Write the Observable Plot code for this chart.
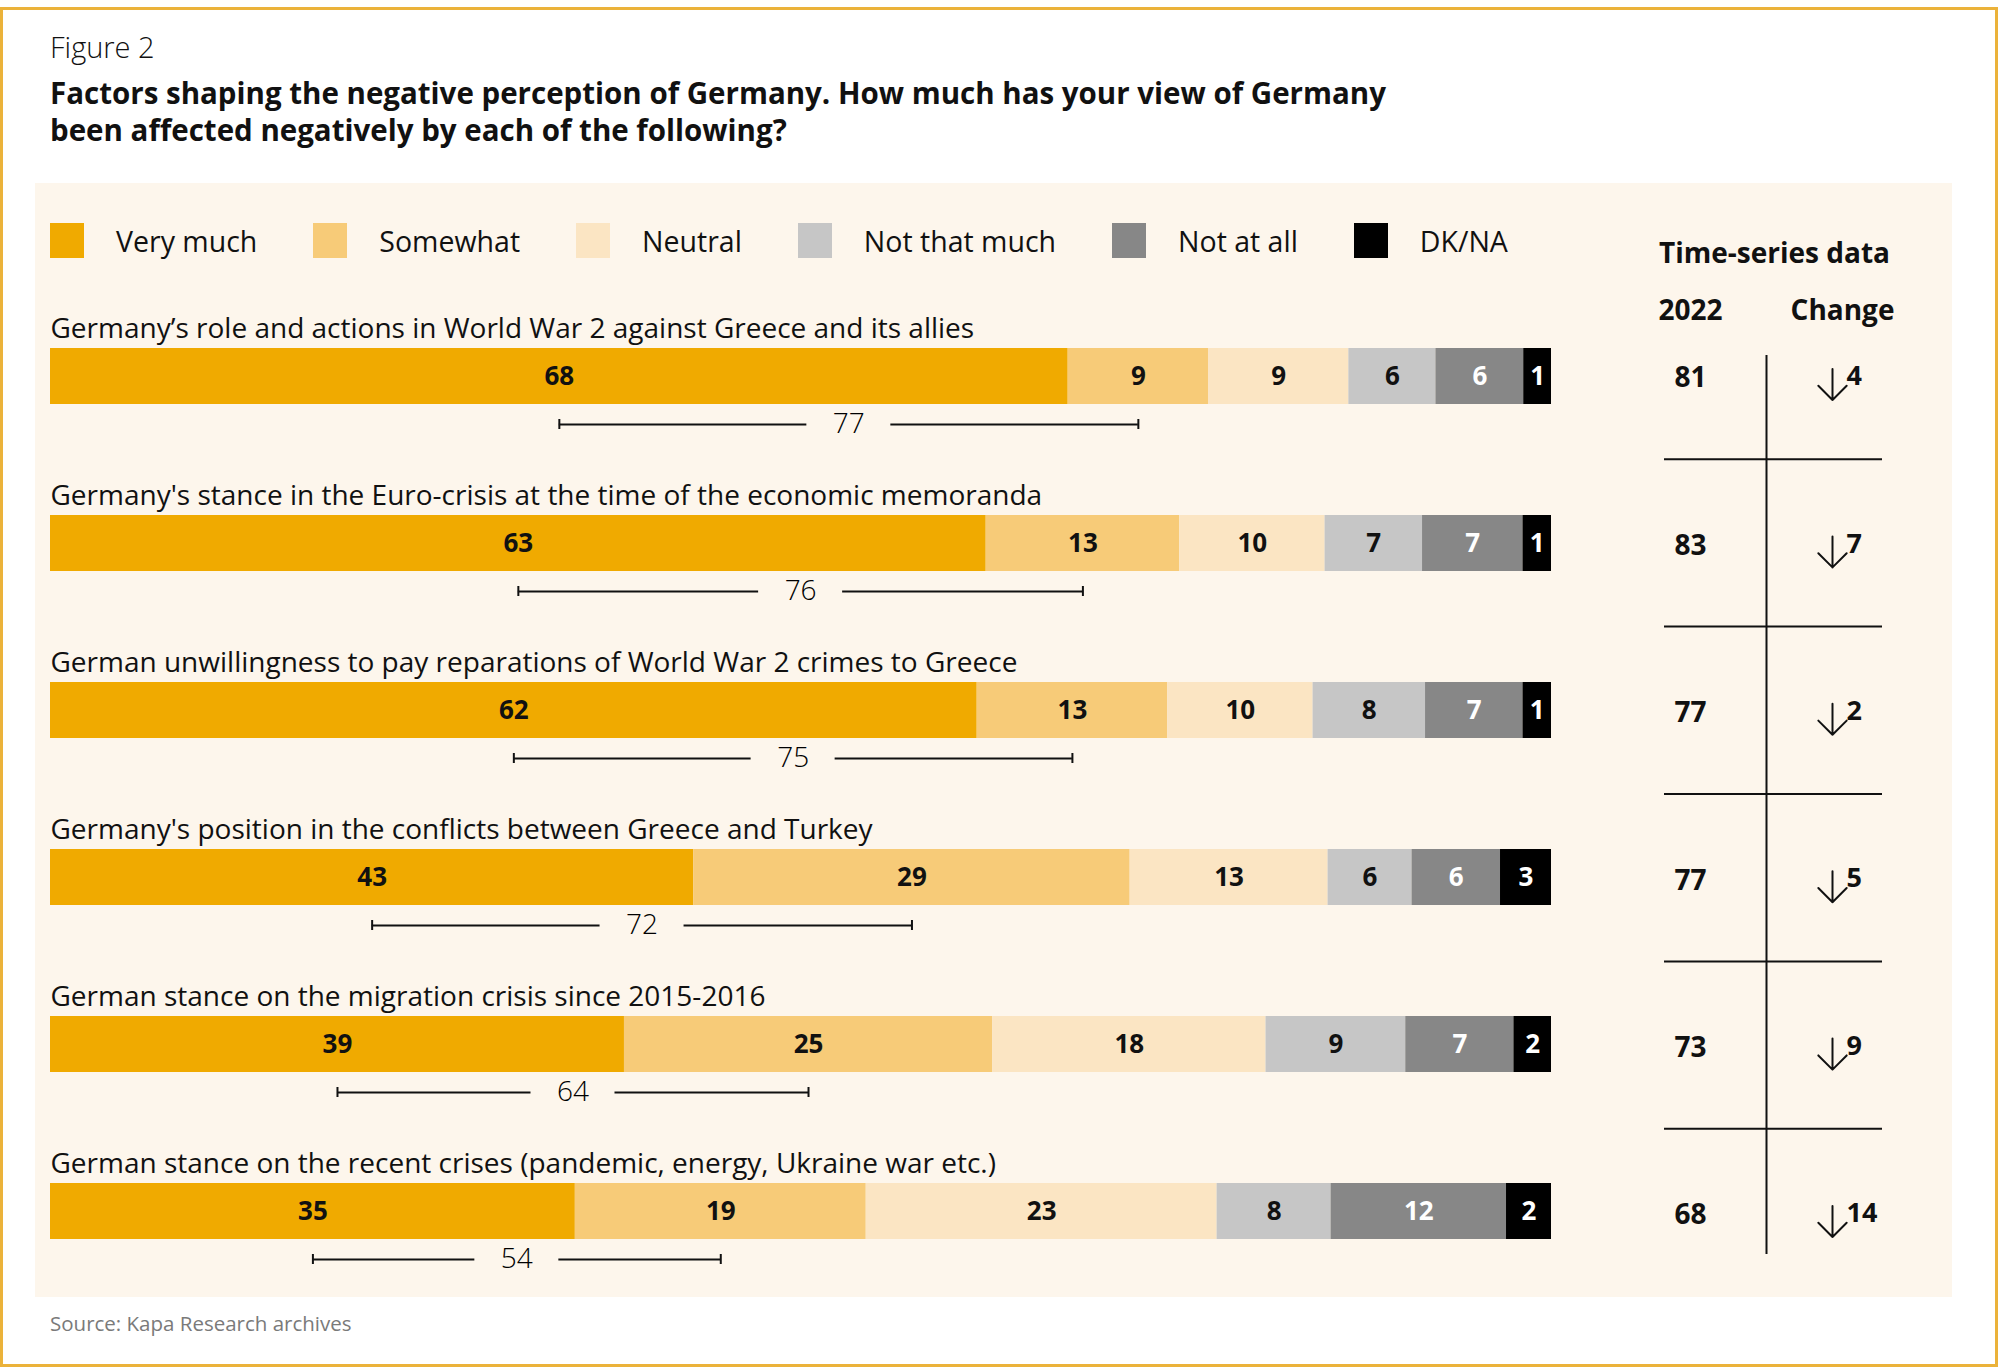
<!DOCTYPE html>
<html>
<head>
<meta charset="utf-8">
<script src="https://cdn.jsdelivr.net/npm/d3@7"></script>
<script src="https://cdn.jsdelivr.net/npm/@observablehq/plot@0.6"></script>
<style>
  body { margin: 0; background: #fff; }
  #fig { position: relative; width: 2000px; height: 1368px; font-family: "Open Sans", sans-serif; color: #111; overflow: hidden; background: #fff; }
  .border { position: absolute; left: 0; top: 7px; width: 1998px; height: 1360px; box-sizing: border-box; border: 3px solid #ebb23a; }
  .panel { position: absolute; left: 35px; top: 183px; width: 1917px; height: 1114px; background: #fdf6ec; }
  .fignum { position: absolute; left: 50px; top: 29px; font-size: 29px; font-weight: 300; line-height: 36px; }
  .title { position: absolute; left: 50px; top: 74px; font-size: 29.5px; font-weight: 700; line-height: 37px; white-space: nowrap; }
  .legend { position: absolute; left: 50px; top: 223px; height: 35px; display: flex; align-items: center; gap: 56px; font-size: 28.5px; }
  .legend .item { display: flex; align-items: center; gap: 32px; }
  .legend .sw { width: 34px; height: 35px; display: inline-block; }
  #bars { position: absolute; left: 0; top: 300px; }
  #table { position: absolute; left: 1620px; top: 200px; }
  .source { position: absolute; left: 50px; top: 1309px; font-size: 20.5px; font-weight: 400; color: #7a7a7a; line-height: 28px; }
</style>
</head>
<body>
<div id="fig">
  <div class="border"></div>
  <div class="panel"></div>
  <div class="fignum">Figure 2</div>
  <div class="title">Factors shaping the negative perception of Germany. How much has your view of Germany<br>been affected negatively by each of the following?</div>
  <div class="legend" id="legend"></div>
  <div id="bars"></div>
  <div id="table"></div>
  <div class="source">Source: Kapa Research archives</div>
</div>
<script>
// ---- Data ----
const categories = [
  "Germany’s role and actions in World War 2 against Greece and its allies",
  "Germany's stance in the Euro-crisis at the time of the economic memoranda",
  "German unwillingness to pay reparations of World War 2 crimes to Greece",
  "Germany's position in the conflicts between Greece and Turkey",
  "German stance on the migration crisis since 2015-2016",
  "German stance on the recent crises (pandemic, energy, Ukraine war etc.)"
];
const responses = ["Very much", "Somewhat", "Neutral", "Not that much", "Not at all", "DK/NA"];
const colors = ["#f0aa00", "#f7cb78", "#fbe5c3", "#c6c6c6", "#878787", "#000000"];

// printed labels (%)
const veryMuch    = [68, 63, 62, 43, 39, 35];
const somewhat    = [9, 13, 13, 29, 25, 19];
const neutral     = [9, 10, 10, 13, 18, 23];
const notThatMuch = [6, 7, 8, 6, 9, 8];
const notAtAll    = [6, 7, 7, 6, 7, 12];
const dkNa        = [1, 1, 1, 3, 2, 2];
// bar lengths as drawn (%, unrounded shares)
const veryMuchBar    = [67.8, 62.4, 61.8, 42.9, 38.2, 35.0];
const somewhatBar    = [9.35, 12.9, 12.7, 29.1, 24.5, 19.4];
const neutralBar     = [9.35, 9.7, 9.7, 13.2, 18.2, 23.4];
const notThatMuchBar = [5.8, 6.5, 7.5, 5.6, 9.3, 7.6];
const notAtAllBar    = [5.85, 6.7, 6.5, 5.9, 7.2, 11.7];
const dkNaBar        = [1.85, 1.9, 1.9, 3.4, 2.5, 3.0];

const combined    = [77, 76, 75, 72, 64, 54];   // Very much + Somewhat
const ts2022      = [81, 83, 77, 77, 73, 68];
const changeDown  = [4, 7, 2, 5, 9, 14];
const tableCols   = ["2022", "Change"];

// ---- Derived tables ----
const labelSeries = [veryMuch, somewhat, neutral, notThatMuch, notAtAll, dkNa];
const barSeries = [veryMuchBar, somewhatBar, neutralBar, notThatMuchBar, notAtAllBar, dkNaBar];
const rows = [];
categories.forEach((c, i) => responses.forEach((r, j) =>
  rows.push({cat: c, resp: r, share: barSeries[j][i], label: labelSeries[j][i]})));
const whiteText = new Set(["Not at all", "DK/NA"]);

const brackets = categories.map((c, i) => {
  const total = d3.sum(barSeries, s => s[i]);
  const start = veryMuchBar[i] / 2 / total;
  const end = (veryMuchBar[i] + somewhatBar[i] / 2) / total;
  return {cat: c, start, end, mid: (start + end) / 2, label: combined[i]};
});

const tbl = categories.map((c, i) => ({row: i, v: ts2022[i], ch: changeDown[i]}));

// ---- Legend ----
const legend = document.getElementById("legend");
responses.forEach((r, j) => {
  const it = document.createElement("div");
  it.className = "item";
  it.innerHTML = `<span class="sw" style="background:${colors[j]}"></span><span>${r}</span>`;
  legend.appendChild(it);
});

// ---- Bars ----
const off = 48; // bracket offset below band centre
const bars = Plot.plot({
  width: 1620,
  height: 990,
  marginLeft: 50,
  marginRight: 69,
  marginTop: 0,
  marginBottom: 0,
  style: {background: "transparent", fontFamily: "Open Sans, sans-serif", color: "#111", overflow: "visible"},
  x: {domain: [0, 1], axis: null},
  y: {domain: categories, range: [47, 940], paddingInner: 0.665, paddingOuter: 0, axis: null},
  color: {domain: responses, range: colors},
  marks: [
    Plot.barX(rows, Plot.stackX({x: "share", y: "cat", fill: "resp", order: responses, offset: "normalize"})),
    Plot.text(rows, Plot.stackX({
      x: "share", y: "cat", z: "resp", order: responses, offset: "normalize",
      text: "label",
      fill: d => whiteText.has(d.resp) ? "#ffffff" : "#111111",
      fontSize: 26, fontWeight: 700
    })),
    Plot.text(categories, {y: d => d, text: d => d, frameAnchor: "left", textAnchor: "start", dy: -47, fontSize: 28, fill: "#111"}),
    Plot.ruleY(brackets, {y: "cat", x1: "start", x2: "mid", dy: off, insetRight: 42, stroke: "#111", strokeWidth: 2}),
    Plot.ruleY(brackets, {y: "cat", x1: "mid", x2: "end", dy: off, insetLeft: 42, stroke: "#111", strokeWidth: 2}),
    Plot.tickX(brackets, {x: "start", y: "cat", dy: off, insetTop: 23, insetBottom: 23, stroke: "#111", strokeWidth: 2}),
    Plot.tickX(brackets, {x: "end", y: "cat", dy: off, insetTop: 23, insetBottom: 23, stroke: "#111", strokeWidth: 2}),
    Plot.text(brackets, {x: "mid", y: "cat", text: "label", dy: off, fontSize: 28, fontWeight: 300, fill: "#000"})
  ]
});
document.getElementById("bars").appendChild(bars);

// ---- Time-series table ----
const n = categories.length;
const table = Plot.plot({
  width: 330,
  height: 1100,
  marginTop: 155,
  marginBottom: 46,
  marginLeft: 44,
  marginRight: 68,
  style: {background: "transparent", fontFamily: "Open Sans, sans-serif", color: "#111", overflow: "visible"},
  x: {domain: [0, tableCols.length], range: [-6, 298], axis: null},
  y: {domain: [0, n - 1], range: [175, 1012], axis: null},
  marks: [
    Plot.ruleX([tableCols.length / 2], {stroke: "#111", strokeWidth: 2}),
    Plot.ruleY(d3.range(n - 1), {y: d => d + 0.5, stroke: "#111", strokeWidth: 2}),
    Plot.text(["Time-series data"], {x: () => tableCols.length / 2, text: d => d, frameAnchor: "top", dy: -112, dx: 8, fontSize: 28, fontWeight: 700, fill: "#111"}),
    Plot.text(tableCols, {x: (d, i) => i + 0.5, text: d => d, frameAnchor: "top", dy: -55, fontSize: 28, fontWeight: 700, fill: "#111"}),
    Plot.text(tbl, {x: () => 0.5, y: "row", text: "v", dy: 3, fontSize: 28, fontWeight: 700, fill: "#111"}),
    Plot.vector(tbl, {x: () => 1.5, y: "row", length: 31, rotate: 180, anchor: "middle", r: 8, dx: -10, dy: 9, stroke: "#111", strokeWidth: 2}),
    Plot.text(tbl, {x: () => 1.5, y: "row", text: "ch", textAnchor: "start", dx: 4, dy: 1, fontSize: 27, fontWeight: 700, fill: "#111"})
  ]
});
document.getElementById("table").appendChild(table);
</script>
</body>
</html>
